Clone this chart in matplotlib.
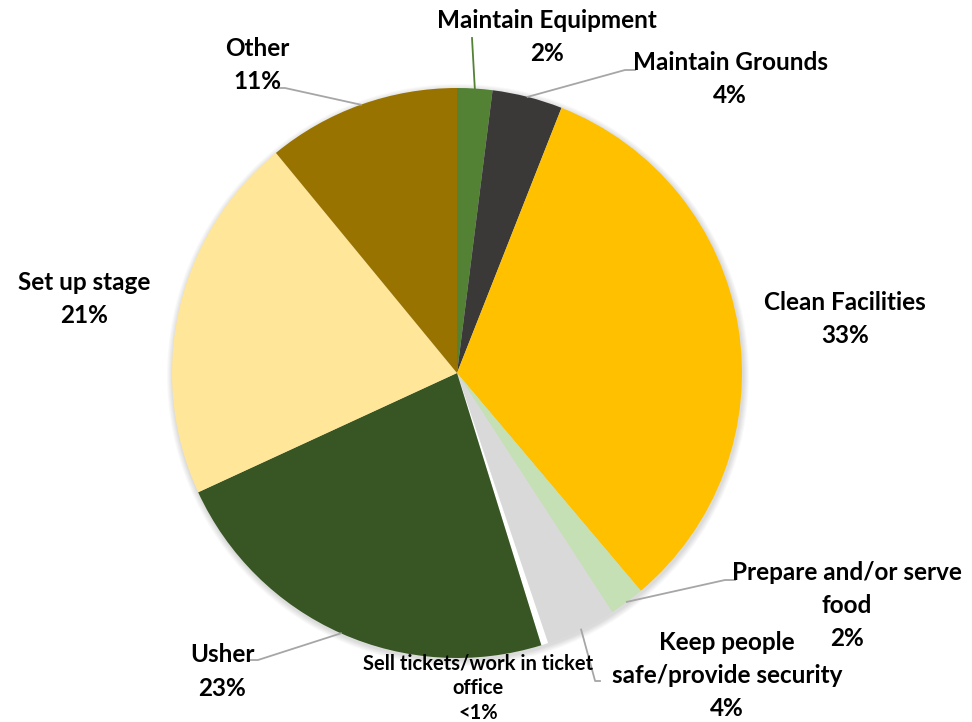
import numpy as np
import matplotlib.pyplot as plt

# volunteer task shares, clockwise from 12 o'clock
tasks = ['Maintain Equipment', 'Maintain Grounds', 'Clean Facilities',
         'Prepare and/or serve\nfood', 'Keep people\nsafe/provide security',
         'Sell tickets/work in ticket\noffice', 'Usher', 'Set up stage', 'Other']
shares = [2, 4, 33, 2, 4, 0.4, 23, 21, 11]
colors = ['#548235', '#3B3838', '#FFC000', '#C5E0B4', '#D9D9D9',
          '#FFFFFF', '#375623', '#FFE699', '#997300']

# centre of first label line (pixels, top-left origin) and leader line end
label_pos = [(547, 20), (730, 62), (845, 302), (847, 572), (727, 642),
             (478, 663), (222, 655), (84, 282), (257, 48)]
leader_end = [(472, 38), (625, 70), None, (725, 580), (600, 681),
              None, (258, 660), None, (285, 88)]
leader_col = ['#548235', '#A6A6A6', None, '#A6A6A6', '#A6A6A6',
              None, '#A6A6A6', None, '#A6A6A6']

W, H = 972, 722
cx, cy, R = 457, 373, 285

fig = plt.figure(figsize=(W / 100, H / 100), dpi=100)
ax = fig.add_axes([0, 0, 1, 1])

# soft shadow round the pie
for i in range(6):
    ax.add_patch(plt.Circle((cx + 1, H - cy - 2), R + 1 + i, color='black',
                            alpha=0.025, lw=0, zorder=0))

wedges, _ = ax.pie(shares, colors=colors, startangle=90, counterclock=False,
                   radius=R, center=(cx, H - cy),
                   wedgeprops=dict(linewidth=0), frame=True)
ax.set_xlim(0, W)
ax.set_ylim(0, H)
ax.set_aspect('equal')
ax.axis('off')

total = sum(shares)
cum = np.cumsum([0] + shares)
for i, name in enumerate(tasks):
    pct = shares[i] / total * 100
    pct_txt = '<1%' if pct < 1 else '%d%%' % round(shares[i])
    lx, ly = label_pos[i]
    small = i == 5
    step = 25 if small else 33.5
    # one text per line so each sits on its own
    for k, line in enumerate(name.split('\n') + [pct_txt]):
        ax.text(lx, H - (ly + k * step), line, ha='center', va='center',
                fontsize=14.5 if small else 17.5, fontweight='bold',
                family='Lato', color='black')
    if leader_end[i] is not None:
        mid = (cum[i] + shares[i] / 2) / total * 2 * np.pi
        px, py = cx + R * np.sin(mid), cy - R * np.cos(mid)
        ex, ey = leader_end[i]
        if i == 0:
            xs, ys = [px, ex], [H - py, H - ey]
        elif i == 4:
            xs = [px, px + 14, ex]
            ys = [H - py, H - ey, H - ey]
        else:
            tail = 10 if ex > cx else -10
            xs = [px, ex, ex + tail]
            ys = [H - py, H - ey, H - ey]
        ax.plot(xs, ys, color=leader_col[i], lw=1.3, zorder=1)

plt.savefig('out.png', dpi=100)
